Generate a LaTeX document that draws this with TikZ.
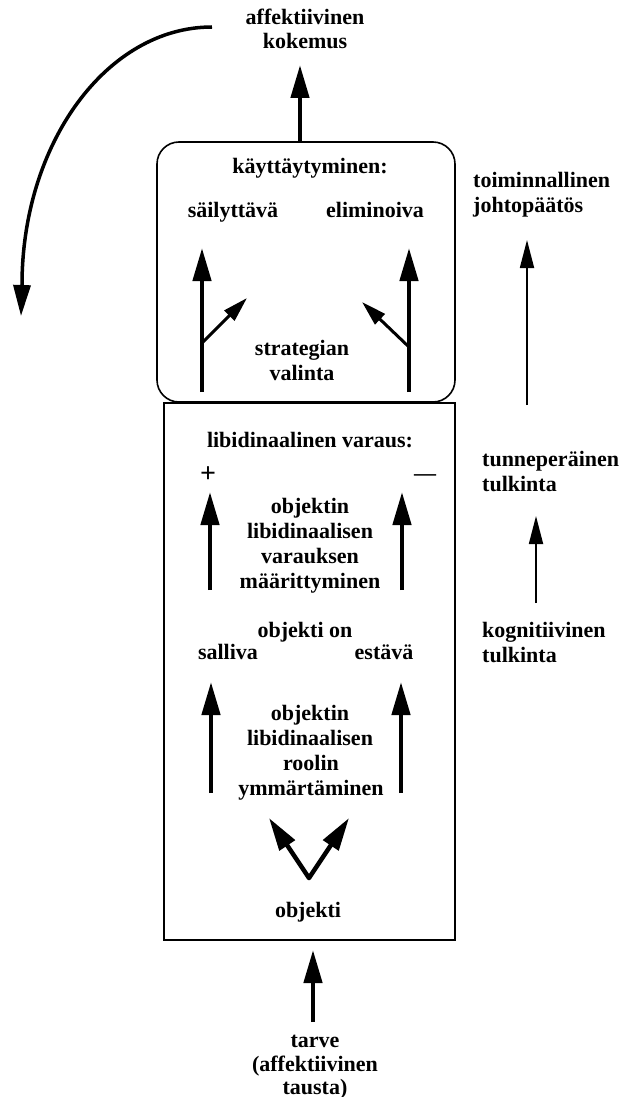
\documentclass[tikz,border=0pt]{standalone}
\usepackage{fontspec}
\setmainfont{Liberation Serif}
\usetikzlibrary{arrows.meta}

\tikzset{
  txt/.style={font=\fontsize{22}{24}\selectfont\bfseries, inner sep=0pt, anchor=base},
  txtl/.style={txt, anchor=base west},
  boxline/.style={draw, line width=1.6pt},
  bigarrow/.style={line width=4.5pt, -{Triangle[length=33pt,width=18pt]}},
  midarrow/.style={line width=3pt, -{Triangle[length=25pt,width=14pt]}},
  thinarrow/.style={line width=1.8pt, -{Triangle[length=28pt,width=14pt]}},
  curvearrow/.style={line width=3.5pt, -{Triangle[length=31pt,width=17pt]}},
}

\begin{document}
\begin{tikzpicture}[x=1pt,y=-1pt]
\useasboundingbox (0,0) rectangle (619,1097);

% frames
\node[boxline, rounded corners=22pt, minimum width=298pt, minimum height=260pt, inner sep=0pt] (behav) at (306,272) {};
\node[boxline, minimum width=291pt, minimum height=537pt, inner sep=0pt] (libbox) at (309.5,671.5) {};

% top labels
\node[txt] (aff1) at (305,25) {affektiivinen};
\node[txt] (aff2) at (305,49) {kokemus};

% behaviour box texts
\node[txt] (kayt) at (310,173) {käyttäytyminen:};
\node[txt] (sail) at (233,217) {säilyttävä};
\node[txt] (elim) at (375,217) {eliminoiva};
\node[txt] (strat1) at (302,355) {strategian};
\node[txt] (strat2) at (302,380) {valinta};

% libidinal box texts
\node[txt] (libv) at (310,447) {libidinaalinen varaus:};
\node[txt, font=\fontsize{28}{28}\selectfont\bfseries] (plus) at (208,482) {+};
\node[txt] (minus) at (425,480) {—};
\node[txt] (ma1) at (310,513) {objektin};
\node[txt] (ma2) at (310,538) {libidinaalisen};
\node[txt] (ma3) at (310,563) {varauksen};
\node[txt] (ma4) at (310,588) {määrittyminen};
\node[txt] (objon) at (305,637) {objekti on};
\node[txt] (sall) at (228,659) {salliva};
\node[txt] (esta) at (384,659) {estävä};
\node[txt] (ro1) at (310,720) {objektin};
\node[txt] (ro2) at (310,745) {libidinaalisen};
\node[txt] (ro3) at (311,770) {roolin};
\node[txt] (ro4) at (311,795) {ymmärtäminen};
\node[txt] (obj) at (308,917) {objekti};

% bottom labels
\node[txt] (tar1) at (315,1047) {tarve};
\node[txt] (tar2) at (315,1071) {(affektiivinen};
\node[txt] (tar3) at (315,1094) {tausta)};

% right column
\node[txtl] (toim1) at (473,187) {toiminnallinen};
\node[txtl] (toim2) at (473,212) {johtopäätös};
\node[txtl] (tunn1) at (482,466) {tunneperäinen};
\node[txtl] (tunn2) at (482,491) {tulkinta};
\node[txtl] (kogn1) at (482,637) {kognitiivinen};
\node[txtl] (kogn2) at (482,662) {tulkinta};

% arrow end points
\coordinate (topS) at (300,142);   \coordinate (topT) at (300,65);
\coordinate (bl0) at (202,392);    \coordinate (bl1) at (202,248);
\coordinate (blb) at (202,343);    \coordinate (blt) at (247,298);
\coordinate (br0) at (409,392);    \coordinate (br1) at (409,248);
\coordinate (brb) at (409,347);    \coordinate (brt) at (362,302);
\coordinate (ml0) at (210,590);    \coordinate (ml1) at (210,492);
\coordinate (mr0) at (402,590);    \coordinate (mr1) at (402,492);
\coordinate (ll0) at (211,793);    \coordinate (ll1) at (211,682);
\coordinate (lr0) at (401,793);    \coordinate (lr1) at (401,682);
\coordinate (vv) at (309,878);
\coordinate (vl) at (269,818);     \coordinate (vr) at (349,818);
\coordinate (bot0) at (313,1022);  \coordinate (bot1) at (313,950);
\coordinate (ra0) at (527,405);    \coordinate (ra1) at (527,240);
\coordinate (rb0) at (536,603);    \coordinate (rb1) at (536,516);
\coordinate (cS) at (212,27);      \coordinate (cM) at (22,285);
\coordinate (cT) at (21,316);

% arrows
\draw[bigarrow] (topS) -- (topT);
\draw[bigarrow] (bl0) -- (bl1);
\draw[midarrow] (blb) -- (blt);
\draw[bigarrow] (br0) -- (br1);
\draw[midarrow] (brb) -- (brt);
\draw[bigarrow] (ml0) -- (ml1);
\draw[bigarrow] (mr0) -- (mr1);
\draw[bigarrow] (ll0) -- (ll1);
\draw[bigarrow] (lr0) -- (lr1);
\draw[bigarrow] (vv) -- (vl);
\draw[bigarrow] (vv) -- (vr);
\fill (vv) circle (2.25pt);
\draw[bigarrow] (bot0) -- (bot1);
\draw[thinarrow] (ra0) -- (ra1);
\draw[thinarrow] (rb0) -- (rb1);
\draw[curvearrow] (cS) .. controls (107,27) and (22,143) .. (cM) -- (cT);
\end{tikzpicture}
\end{document}
